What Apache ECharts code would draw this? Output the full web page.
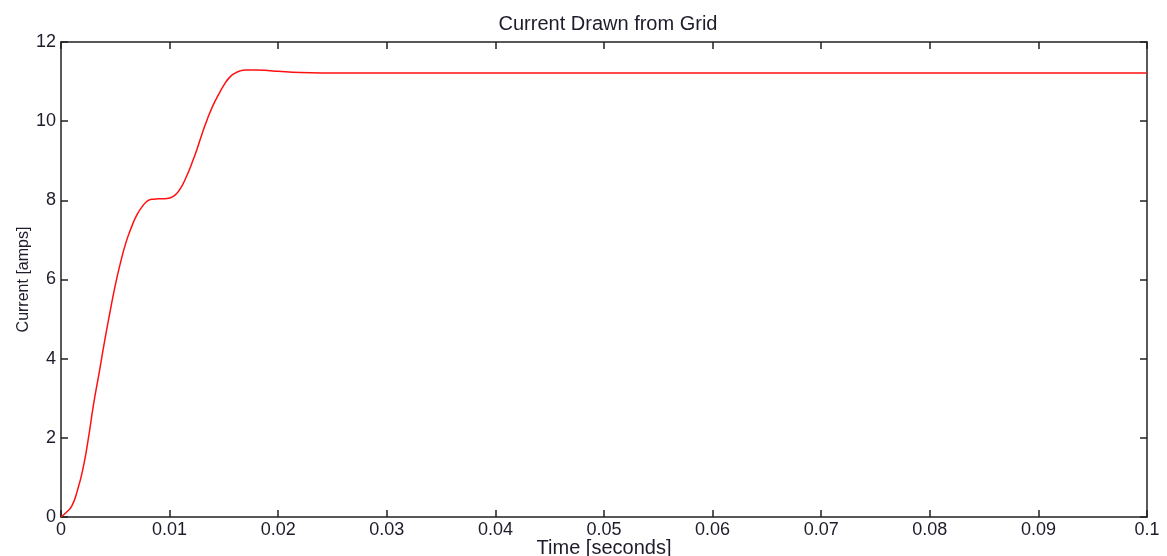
<!DOCTYPE html>
<html>
<head>
<meta charset="utf-8">
<script src="https://cdn.jsdelivr.net/npm/echarts@6/dist/echarts.min.js"></script>
<style>
html,body{margin:0;padding:0;background:#fff;}
#c{width:1167px;height:556px;}
</style>
</head>
<body>
<div id="c"></div>
<script>
var titleText = 'Current Drawn from Grid';
var xName = 'Time [seconds]';
var yName = 'Current [amps]';
var xTickLabels = ['0','0.01','0.02','0.03','0.04','0.05','0.06','0.07','0.08','0.09','0.1'];
var yTickLabels = ['0','2','4','6','8','10','12'];
var timeValues = [0,0.0005,0.001,0.0015,0.002,0.0025,0.003,0.0035,0.004,0.0045,0.005,0.0055,0.006,0.0065,0.007,0.0075,0.008,0.0085,0.009,0.0095,0.01,0.0105,0.011,0.0115,0.012,0.0125,0.013,0.0135,0.014,0.0145,0.015,0.0155,0.016,0.0165,0.017,0.018,0.019,0.02,0.022,0.024,0.03,0.04,0.05,0.06,0.07,0.08,0.09,0.1];
var currentValues = [0,0.12,0.28,0.66,1.19,1.95,2.85,3.62,4.42,5.16,5.86,6.45,6.95,7.33,7.64,7.85,7.99,8.03,8.04,8.04,8.06,8.13,8.30,8.57,8.90,9.27,9.69,10.07,10.40,10.67,10.91,11.10,11.21,11.27,11.29,11.29,11.28,11.26,11.23,11.22,11.22,11.22,11.22,11.22,11.22,11.22,11.22,11.22];

var seriesData = timeValues.map(function(t,i){return [t,currentValues[i]];});
var txt = '#1c1c2a';
var axisCol = '#222';
var ff = '"Liberation Sans", Arial, sans-serif';

var chart = echarts.init(document.getElementById('c'), null, {renderer:'canvas'});
chart.setOption({
  animation:false,
  backgroundColor:'#fff',
  title:{text:titleText, left:603, textAlign:'center', top:9,
    textStyle:{fontFamily:ff, fontSize:20, fontWeight:'normal', color:txt}},
  grid:{left:61, right:20, top:42, bottom:39, containLabel:false, outerBoundsMode:'none'},
  xAxis:[{
    type:'value', min:0, max:0.1, interval:0.01, position:'bottom',
    name:xName, nameLocation:'middle', nameGap:21, nameMoveOverlap:false,
    nameTextStyle:{fontFamily:ff, fontSize:20, color:txt},
    axisLine:{show:true, onZero:false, lineStyle:{color:axisCol, width:1.5}},
    axisTick:{show:true, inside:true, length:7, lineStyle:{color:axisCol, width:1.5}},
    axisLabel:{fontFamily:ff, fontSize:18, color:txt, margin:4,
      formatter:function(v){return xTickLabels[Math.round(v/0.01)];}},
    splitLine:{show:false}
  },{
    type:'value', min:0, max:0.1, interval:0.01, position:'top',
    axisLine:{show:true, onZero:false, lineStyle:{color:axisCol, width:1.5}},
    axisTick:{show:true, inside:true, length:7, lineStyle:{color:axisCol, width:1.5}},
    axisLabel:{show:false}, splitLine:{show:false}
  }],
  yAxis:[{
    type:'value', min:0, max:12, interval:2, position:'left',
    name:yName, nameLocation:'middle', nameGap:29, nameRotate:90, nameMoveOverlap:false,
    nameTextStyle:{fontFamily:ff, fontSize:16, color:txt},
    axisLine:{show:true, onZero:false, lineStyle:{color:axisCol, width:1.5}},
    axisTick:{show:true, inside:true, length:7, lineStyle:{color:axisCol, width:1.5}},
    axisLabel:{fontFamily:ff, fontSize:18, color:txt, margin:5,
      formatter:function(v){return yTickLabels[Math.round(v/2)];}},
    splitLine:{show:false}
  },{
    type:'value', min:0, max:12, interval:2, position:'right',
    axisLine:{show:true, onZero:false, lineStyle:{color:axisCol, width:1.5}},
    axisTick:{show:true, inside:true, length:7, lineStyle:{color:axisCol, width:1.5}},
    axisLabel:{show:false}, splitLine:{show:false}
  }],
  series:[{
    type:'line', xAxisIndex:0, yAxisIndex:0, data:seriesData,
    showSymbol:false, smooth:0.5,
    lineStyle:{color:'#ff1010', width:1.5}
  }]
});
</script>
</body>
</html>
